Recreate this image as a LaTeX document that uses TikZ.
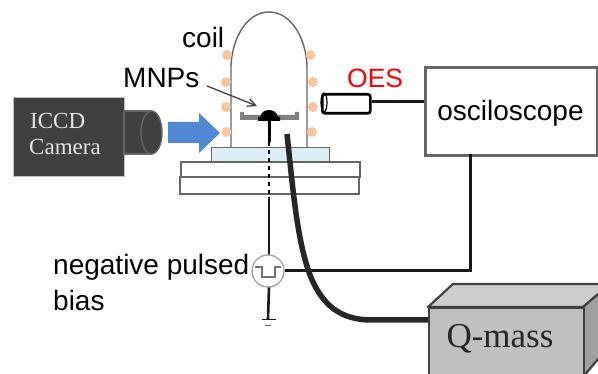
\documentclass[tikz,border=0pt]{standalone}
\usepackage{fontspec}
\setmainfont{Liberation Sans}
\newfontfamily\serifface{Liberation Serif}
\usetikzlibrary{arrows.meta}
\definecolor{darkbody}{HTML}{404040}
\definecolor{coilc}{HTML}{F7C79B}
\definecolor{plateblue}{HTML}{DAEEF3}
\definecolor{arrowblue}{HTML}{4F88D4}
\definecolor{qfront}{HTML}{C0C0C0}
\definecolor{qtop}{HTML}{CDCDCD}
\definecolor{qside}{HTML}{A0A0A0}
\tikzset{
  coilpt/.style={circle,fill=coilc,draw=none,minimum size=10pt,inner sep=0pt},
  basebox/.style={draw=black!60,line width=1.6pt,fill=white},
  label/.style={inner sep=0pt,font=\fontsize{28}{28}\selectfont,text=black},
  wire/.style={draw=black!90,line width=3pt},
  camtext/.style={inner sep=0pt,text=white!90!black,font=\serifface\fontsize{23}{23}\selectfont},
  qedge/.style={draw=black!75,line width=2.2pt,line join=round}
}
\begin{document}
\begin{tikzpicture}[x=1pt,y=-1pt]
\useasboundingbox (0,0) rectangle (598,374);
\begin{scope}
\clip (0,0) rectangle (598,374);
% Q-mass box
\draw[qedge,fill=qtop] (428,307) -- (453,284) -- (610,284) -- (583,307) -- cycle;
\draw[qedge,fill=qside] (583,307) -- (610,284) -- (610,345) -- (583,377) -- cycle;
\node[qedge,fill=qfront,minimum width=155pt,minimum height=80pt,inner sep=0pt,anchor=north west] (qmass) at (428,307) {};
\end{scope}
\node[inner sep=0pt,text=black!85,font=\serifface\fontsize{35}{35}\selectfont] (qtext) at (500,339) {Q-mass};
% bases
\node[basebox,minimum width=179pt,minimum height=17pt,inner sep=0pt,anchor=north west] (base2) at (179,176) {};
\node[basebox,minimum width=179pt,minimum height=15pt,inner sep=0pt,anchor=north west] (base1) at (180,161) {};
\node[draw=black!60,line width=1.4pt,fill=plateblue,minimum width=118pt,minimum height=14pt,inner sep=0pt,anchor=north west] (plate) at (211,147) {};
% dome
\draw[black!60,line width=1.4pt] (231,147) -- (231,66) .. controls (232,38) and (247,12) .. (269,12) .. controls (291,12) and (306,38) .. (307,66) -- (307,147);
% coils
\foreach \n/\x/\y in {a/227/55,b/226/82,c/226/107,d/226.5/132,e/310.5/55,f/313/82,g/313/107,h/312/132}
  \node[coilpt] (coil\n) at (\x,\y) {};
% stage
\fill[black!50] (240,112) -- (244,112) -- (244,115) -- (295,115) -- (295,112) -- (299,112) -- (299,120) -- (240,120) -- cycle;
\fill[black] (260,117) .. controls (261,112) and (265,110) .. (269,110) .. controls (273,110) and (277,112) .. (278,117) -- (280,117) -- (280,121) -- (258,121) -- (258,117) -- cycle;
\coordinate (stemtop) at (269,120);
\coordinate (stembot) at (269,142);
\coordinate (groundtop) at (268,319);
\draw[black,line width=3pt] (stemtop) -- (stembot);
\draw[black,line width=1.4pt,dash pattern=on 4pt off 4pt] (stembot) -- (269,196);
\draw[black!90,line width=2.6pt] (269,197) -- (269,255);
\draw[black!90,line width=2.6pt] (269,287) -- (groundtop);
\draw[black!90,line width=1.8pt] (262,319.5) -- (276,319.5);
\draw[black!60,line width=1.5pt] (265,325.5) -- (271,325.5);
% pulse source
\node[circle,draw=black!35,line width=1.4pt,fill=white,minimum size=32pt,inner sep=0pt] (pulse) at (268,271) {};
\draw[black!55,line width=1.6pt] (255,267) -- (262,267) -- (262,277) -- (275,277) -- (275,267) -- (281,267);
% camera
\node[fill=darkbody,draw=black!25,line width=.8pt,minimum width=111pt,minimum height=79pt,inner sep=0pt,anchor=north west] (cam) at (13,97) {};
\filldraw[fill=darkbody,draw=black!60,line width=1.4pt] (124,111) rectangle (151.5,154);
\filldraw[fill=darkbody,draw=black!60,line width=1.4pt] (151.5,132.5) ellipse[x radius=10.5,y radius=21.5];
\node[camtext,anchor=base west] (iccd) at (30,129) {ICCD};
\node[camtext,anchor=base west] (camera) at (29,155) {Camera};
% blue arrow
\fill[arrowblue] (168,122) -- (199,122) -- (199,113) -- (220,133) -- (199,153) -- (199,143) -- (168,143) -- cycle;
% oscilloscope
\node[draw=black!60,line width=2.8pt,fill=white,minimum width=172pt,minimum height=88pt,inner sep=0pt,anchor=north west] (osc) at (424,66) {};
\node[label] (osctext) at (510.5,113.5) {osciloscope};
% OES tube
\node[draw=black,line width=2.6pt,rounded corners=2.5pt,minimum width=48pt,minimum height=19pt,inner sep=0pt,anchor=north west] (tube) at (321,93) {};
\draw[black,line width=1.2pt] (324,102.5) ellipse[x radius=3,y radius=9.5];
\draw[wire] (tube.east |- 0,102) -- (osc.west |- 0,102);
\node[inner sep=0pt,text=red,font=\fontsize{26.5}{26.5}\selectfont,anchor=base west] (oes) at (347,88) {OES};
% oscilloscope to pulse
\draw[wire] (pulse.east) -- (470,271) -- (470,154);
% thick tube to Q-mass
\coordinate (sample) at (287,134);
\draw[black!85,line width=5.5pt] (sample) .. controls (293,190) and (297,240) .. (310,275) .. controls (322,305) and (340,320) .. (372,320) -- (qmass.west |- 0,320);
% labels
\node[label,anchor=base west] (coillabel) at (182,48) {coil};
\node[label,anchor=base west] (mnps) at (123,88) {MNPs};
\node[label,anchor=base west] (neg) at (53,275) {negative pulsed};
\node[label,anchor=base west] (bias) at (53,311) {bias};
\coordinate (mnpfrom) at (207,86);
\coordinate (mnpto) at (257,106);
\draw[black!75,line width=1.3pt,-{Straight Barb[length=8pt,width=8pt]}] (mnpfrom) -- (mnpto);
\end{tikzpicture}
\end{document}
